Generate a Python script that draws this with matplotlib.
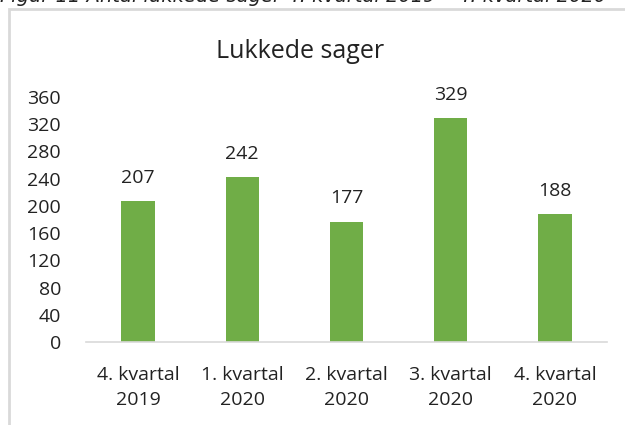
import matplotlib.pyplot as plt
from matplotlib.patches import Rectangle

# data
categories = ["4. kvartal\n2019", "1. kvartal\n2020", "2. kvartal\n2020",
              "3. kvartal\n2020", "4. kvartal\n2020"]
values = [207, 242, 177, 329, 188]
yticks = [0, 40, 80, 120, 160, 200, 240, 280, 320, 360]

plt.rcParams['font.family'] = ['Open Sans', 'DejaVu Sans']

fig = plt.figure(figsize=(6.25, 4.25), dpi=100)

# chart frame (extends beyond right/bottom edge like in the screenshot)
fig.patches.append(Rectangle((9 / 625, -0.1), 1.2, 1 - 9 / 425 + 0.1,
                             transform=fig.transFigure, fill=False,
                             edgecolor="#d9d9d9", linewidth=2))

# cut-off caption at the very top
fig.text(0.0, 1 - 2.5 / 425, "Figur 11 Antal lukkede sager 4. kvartal 2019 \u2013 4. kvartal 2020",
         fontsize=14, style="italic", color="#222222", va="baseline", ha="left",
         family="DejaVu Sans")

ax = fig.add_axes([86 / 625, 1 - 342 / 425, (607 - 86) / 625, (342 - 97) / 425])
x = range(len(categories))
bars = ax.bar(x, values, width=0.32, color="#70AD47")
for i, v in enumerate(values):
    ax.text(i, v + 21, str(v), ha="center", va="bottom", fontsize=14, color="#222222")

ax.set_xlim(-0.5, len(categories) - 0.5)
ax.set_ylim(0, 360)
ax.set_yticks(yticks)
ax.set_xticks(list(x))
ax.set_xticklabels(categories, fontsize=14, color="#222222", linespacing=1.5)
ax.tick_params(axis="y", labelsize=14, labelcolor="#222222", length=0, pad=18)
ax.tick_params(axis="x", length=0, pad=17)
for s in ["left", "right", "top"]:
    ax.spines[s].set_visible(False)
ax.spines["bottom"].set_color("#d9d9d9")
ax.spines["bottom"].set_linewidth(1.2)

fig.text(300 / 625, 1 - 51 / 425, "Lukkede sager", fontsize=18, ha="center",
         va="center", color="#222222")

fig.savefig("out.png", dpi=100)
